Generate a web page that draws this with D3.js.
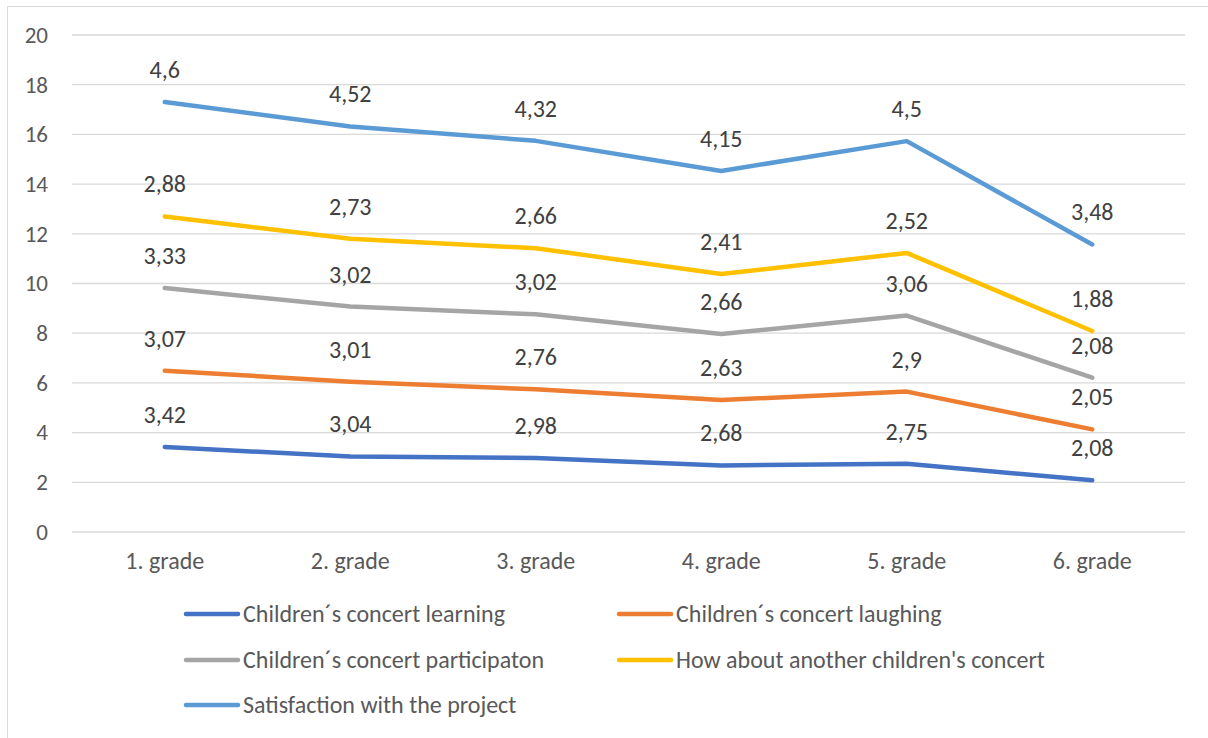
<!DOCTYPE html>
<html>
<head>
<meta charset="utf-8">
<script src="https://cdn.jsdelivr.net/npm/d3@7"></script>
<style>
  body { margin: 0; background: #fff; }
  text { font-family: Calibri, Carlito, "Open Sans", "Noto Sans", sans-serif; fill: #595959; }
</style>
</head>
<body>
<div id="chart"></div>
<script>
// Chart data
const grades = ["1. grade", "2. grade", "3. grade", "4. grade", "5. grade", "6. grade"];
const seriesNames = [
    "Children´s concert learning",
    "Children´s concert laughing",
    "Children´s concert participaton",
    "How about another children's concert",
    "Satisfaction with the project"
];
const learning = [3.42, 3.04, 2.98, 2.68, 2.75, 2.08];
const laughing = [3.07, 3.01, 2.76, 2.63, 2.9, 2.05];
const participation = [3.33, 3.02, 3.02, 2.66, 3.06, 2.08];
const another = [2.88, 2.73, 2.66, 2.41, 2.52, 1.88];
const satisfaction = [4.6, 4.52, 4.32, 4.15, 4.5, 3.48];
const yTicks = [0, 2, 4, 6, 8, 10, 12, 14, 16, 18, 20];
const colors = ["#4472C4", "#ED7D31", "#A5A5A5", "#FFC000", "#5B9BD5"];

const width = 1208, height = 738;
const margin = { left: 72, right: 23, top: 35, bottom: 206 };

const svg = d3.select("#chart").append("svg")
    .attr("width", width)
    .attr("height", height);

// Outer chart border
svg.append("rect")
    .attr("x", 7.5).attr("y", 6.5)
    .attr("width", width).attr("height", height)
    .attr("fill", "none")
    .attr("stroke", "#d9d9d9");

const x = d3.scaleBand()
    .domain(grades)
    .range([margin.left, width - margin.right]);

const y = d3.scaleLinear()
    .domain([0, 20])
    .range([height - margin.bottom, margin.top]);

// Gridlines
svg.append("g")
    .selectAll("line")
    .data(yTicks)
    .join("line")
    .attr("x1", margin.left).attr("x2", width - margin.right)
    .attr("y1", d => y(d)).attr("y2", d => y(d))
    .attr("stroke", "#d9d9d9")
    .attr("stroke-width", 1.3);

// Y axis labels
const yAxis = svg.append("g")
    .attr("transform", `translate(${margin.left - 24},0)`)
    .call(d3.axisLeft(y).tickValues(yTicks).tickSize(0).tickPadding(0));
yAxis.select(".domain").remove();
yAxis.selectAll("text")
    .attr("font-size", 23)
    .style("font-family", "Calibri, Carlito, 'Open Sans', sans-serif")
    .attr("fill", "#595959");

// X axis labels
const xAxis = svg.append("g")
    .attr("transform", `translate(0,${y(0) + 23})`)
    .call(d3.axisBottom(x).tickSize(0).tickPadding(0));
xAxis.select(".domain").remove();
xAxis.selectAll("text")
    .attr("font-size", 24)
    .attr("dy", "0.6em")
    .style("font-family", "Calibri, Carlito, 'Open Sans', sans-serif")
    .attr("fill", "#595959");

// Stack the series
const raw = [learning, laughing, participation, another, satisfaction];
const rows = grades.map((g, i) => {
    const r = { grade: g };
    seriesNames.forEach((s, k) => r[s] = raw[k][i]);
    return r;
});
const stacked = d3.stack().keys(seriesNames)(rows);

const line = d3.line()
    .x(d => x(d.data.grade) + x.bandwidth() / 2)
    .y(d => y(d[1]));

svg.append("g")
    .selectAll("path")
    .data(stacked)
    .join("path")
    .attr("d", line)
    .attr("fill", "none")
    .attr("stroke", (d, i) => colors[i])
    .attr("stroke-width", 4.5)
    .attr("stroke-linecap", "round")
    .attr("stroke-linejoin", "round");

// Data labels
const fmt = v => String(v).replace(".", ",");
stacked.forEach((s, k) => {
    svg.append("g")
        .selectAll("text")
        .data(s)
        .join("text")
        .attr("x", d => x(d.data.grade) + x.bandwidth() / 2)
        .attr("y", d => y(d[1]) - 24)
        .attr("text-anchor", "middle")
        .attr("font-size", 24)
        .style("fill", "#404040")
        .text(d => fmt(raw[k][grades.indexOf(d.data.grade)]));
});

// Legend
const legendPos = [[184, 614], [617, 614], [184, 660], [617, 660], [184, 705]];
const legend = svg.append("g")
    .selectAll("g")
    .data(seriesNames)
    .join("g")
    .attr("transform", (d, i) => `translate(${legendPos[i][0]},${legendPos[i][1]})`);
legend.append("line")
    .attr("x1", 2).attr("x2", 54)
    .attr("stroke", (d, i) => colors[i])
    .attr("stroke-width", 4.5)
    .attr("stroke-linecap", "round");
legend.append("text")
    .attr("x", 59)
    .attr("dy", "0.35em")
    .attr("font-size", 24)
    .text(d => d);
</script>
</body>
</html>
